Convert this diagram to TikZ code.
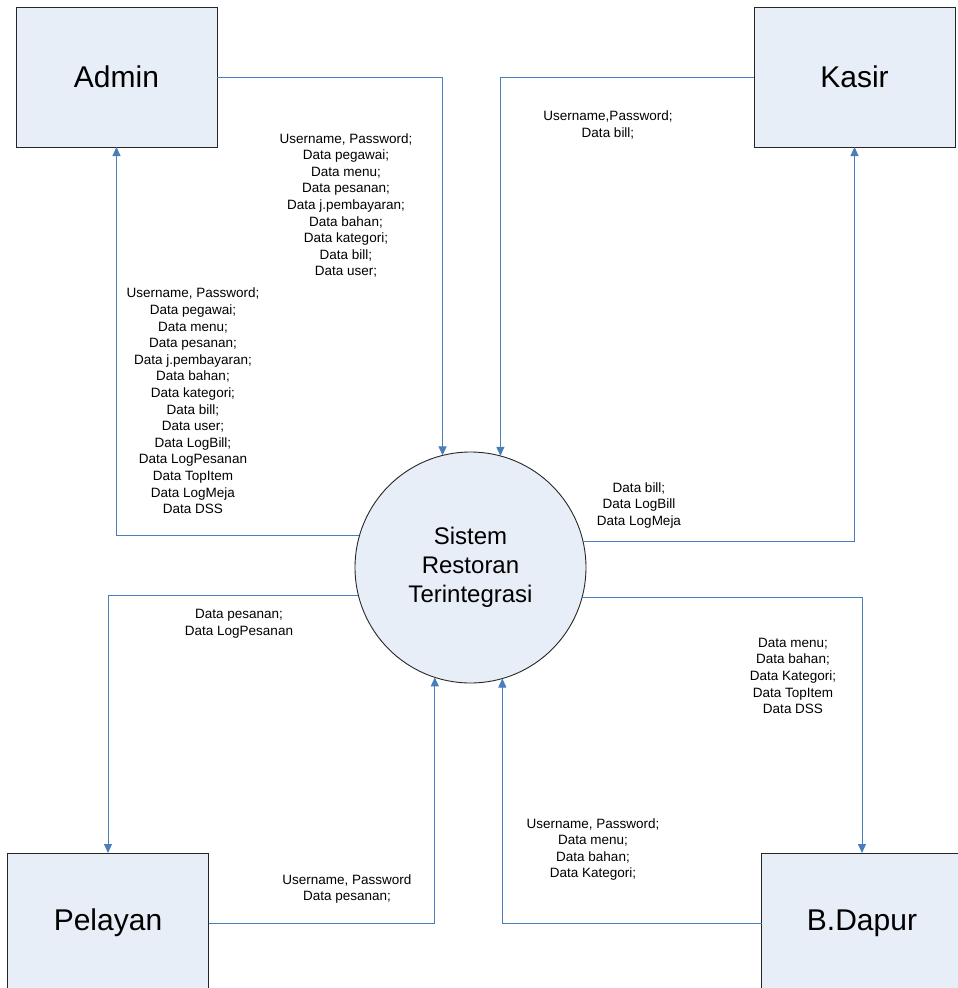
\documentclass[tikz,border=0pt]{standalone}
\usepackage{fontspec}
\setmainfont{Liberation Sans}
\usetikzlibrary{arrows.meta}
\definecolor{boxfill}{RGB}{232,238,247}
\definecolor{flowblue}{RGB}{74,126,187}
\tikzset{
  entity/.style={draw=black!85, line width=0.9pt, fill=boxfill, rectangle,
    minimum width=201pt, minimum height=140pt, inner sep=0pt, outer sep=0pt,
    font=\fontsize{30}{36}\selectfont},
  process/.style={draw=black!85, line width=0.9pt, fill=boxfill, circle,
    minimum size=231pt, inner sep=0pt, outer sep=0pt, align=center,
    font=\fontsize{24}{29}\selectfont},
  flow/.style={draw=flowblue, line width=0.9pt, -{Triangle[length=9pt,width=8pt]}},
  lbl/.style={align=center, inner sep=0pt, font=\fontsize{13.5}{16.6}\selectfont}
}
\begin{document}
\begin{tikzpicture}[x=1pt,y=-1pt]
\useasboundingbox (0,0) rectangle (958,988);
\clip (0,0) rectangle (958,988);
\node[entity] (admin) at (116.5,77) {Admin};
\node[entity] (kasir) at (854.5,77) {Kasir};
\node[entity] (pelayan) at (108,923) {Pelayan};
\node[entity] (dapur) at (862,923) {B.Dapur};
\node[process] (sys) at (470.5,567.5) {Sistem\\Restoran\\Terintegrasi};

\draw[flow] (admin.east) -| (sys.104.8);
\draw[flow] (kasir.west) -| (sys.75.2);
\draw[flow] (sys.164.7) -| (admin.south);
\draw[flow] (sys.13.8) -| (kasir.south);
\draw[flow] (sys.194.8) -| (pelayan.north);
\draw[flow] (pelayan.east) -| (sys.252.1);
\draw[flow] (sys.345.7) -| (dapur.north);
\draw[flow] (dapur.west) -| (sys.286.3);

\node[lbl] (la) at (346,205.5) {Username, Password;\\Data pegawai;\\Data menu;\\Data pesanan;\\Data j.pembayaran;\\Data bahan;\\Data kategori;\\Data bill;\\Data user;};
\node[lbl] (lb) at (608,125) {Username,Password;\\Data bill;};
\node[lbl] (lc) at (193,401) {Username, Password;\\Data pegawai;\\Data menu;\\Data pesanan;\\Data j.pembayaran;\\Data bahan;\\Data kategori;\\Data bill;\\Data user;\\Data LogBill;\\Data LogPesanan\\Data TopItem\\Data LogMeja\\Data DSS};
\node[lbl] (ld) at (639,505.5) {Data bill;\\Data LogBill\\Data LogMeja};
\node[lbl] (le) at (239,623.5) {Data pesanan;\\Data LogPesanan};
\node[lbl] (lf) at (347,889) {Username, Password\\Data pesanan;};
\node[lbl] (lg) at (793,676) {Data menu;\\Data bahan;\\Data Kategori;\\Data TopItem\\Data DSS};
\node[lbl] (lh) at (593,849.5) {Username, Password;\\Data menu;\\Data bahan;\\Data Kategori;};
\end{tikzpicture}
\end{document}
